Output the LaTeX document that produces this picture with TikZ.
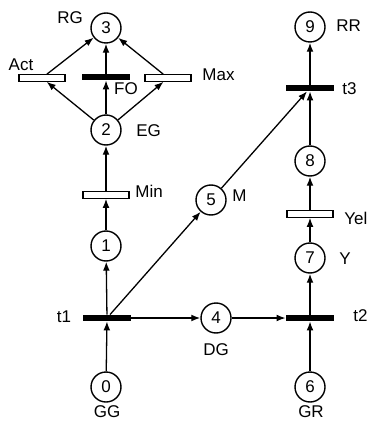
\documentclass[tikz,border=0pt]{standalone}
\usepackage{fontspec}
\setmainfont{Liberation Sans}
\usetikzlibrary{arrows.meta}

\begin{document}
\begin{tikzpicture}[x=0.5pt,y=-0.5pt,>={Latex[length=4.5pt,width=3.4pt]},
      place/.style={draw,circle,line width=0.7pt,minimum size=15pt,inner sep=0pt,
                    font=\fontsize{8.5}{10}\selectfont},
      slow/.style={draw,fill=white,line width=0.6pt,minimum width=23pt,minimum height=3.2pt,inner sep=0pt},
      fast/.style={fill=black,minimum width=24pt,minimum height=3pt,inner sep=0pt},
      lbl/.style={inner sep=0pt,font=\fontsize{8.5}{10}\selectfont},
      arc/.style={->,line width=0.65pt}]
    \useasboundingbox (0,0) rectangle (368,422);
    \node[place] (p3) at (106,28) {3};
    \node[slow] (act) at (42,78) {};
    \node[fast] (fo) at (106,77) {};
    \node[slow] (max) at (168,78) {};
    \node[place] (p2) at (106,130) {2};
    \node[slow] (min) at (106,195) {};
    \node[place] (p1) at (106,246) {1};
    \node[fast] (t1) at (107,318) {};
    \node[place] (p0) at (106,387) {0};
    \node[place] (p4) at (216,318) {4};
    \node[place] (p5) at (211,200) {5};
    \node[fast] (t2) at (310,318) {};
    \node[place] (p6) at (310,387) {6};
    \node[place] (p7) at (310,258) {7};
    \node[slow] (yel) at (310,214) {};
    \node[place] (p8) at (310,161) {8};
    \node[fast] (t3) at (310,88) {};
    \node[place] (p9) at (310,27) {9};
    \node[lbl] (lRG) at (70,18) {RG};
    \node[lbl] (lAct) at (21,65) {Act};
    \node[lbl] (lFO) at (126,89) {FO};
    \node[lbl,anchor=west] (lMax) at (202,75) {Max};
    \node[lbl,anchor=west] (lEG) at (136,131) {EG};
    \node[lbl,anchor=west] (lMin) at (135,191) {Min};
    \node[lbl,anchor=west] (lM) at (232,196) {M};
    \node[lbl,anchor=west] (lYel) at (344,218) {Yel};
    \node[lbl,anchor=west] (lY) at (339,259) {Y};
    \node[lbl,anchor=west] (lRR) at (336,26) {RR};
    \node[lbl,anchor=west] (lt3) at (342,89) {t3};
    \node[lbl] (lt1) at (64,317) {t1};
    \node[lbl,anchor=west] (lt2) at (353,316) {t2};
    \node[lbl] (lDG) at (216,350) {DG};
    \node[lbl] (lGG) at (107,412) {GG};
    \node[lbl] (lGR) at (311,412) {GR};
    \draw[arc] (p0) -- (t1);
    \draw[arc] (t1) -- (p1);
    \draw[arc] (p1) -- (min);
    \draw[arc] (min) -- (p2);
    \draw[arc] (p2) -- (act);
    \draw[arc] (p2) -- (fo);
    \draw[arc] (p2) -- (max);
    \draw[arc] (act) -- (p3);
    \draw[arc] (fo) -- (p3);
    \draw[arc] (max) -- (p3);
    \draw[arc] (t1.east) -- (p4);
    \draw[arc] (p4) -- (t2.west);
    \draw[arc] (t1) -- (p5);
    \draw[arc] (p5) -- (t3);
    \draw[arc] (p6) -- (t2);
    \draw[arc] (t2) -- (p7);
    \draw[arc] (p7) -- (yel);
    \draw[arc] (yel) -- (p8);
    \draw[arc] (p8) -- (t3);
    \draw[arc] (t3) -- (p9);
  \end{tikzpicture}
\end{document}
